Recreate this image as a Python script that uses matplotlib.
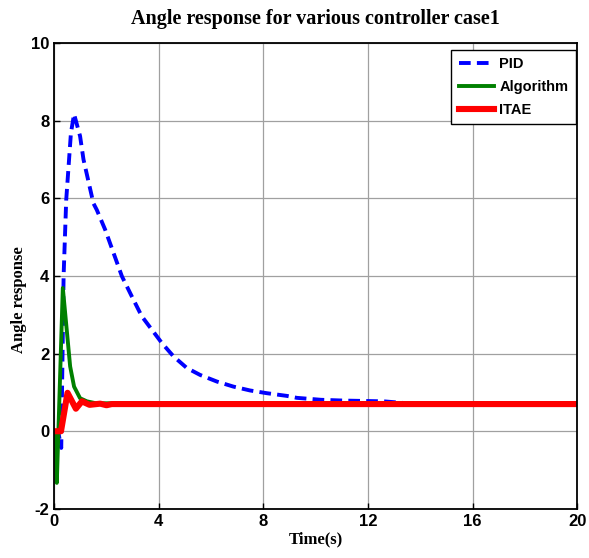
import numpy as np
import matplotlib
matplotlib.use("Agg")
import matplotlib.pyplot as plt

plt.rcParams['axes.unicode_minus'] = False

# Data
pid_t = [0, 0.15, 0.27, 0.36, 0.46, 0.64, 0.76, 0.99, 1.12, 1.5, 1.63, 1.95, 2.27, 2.59,
         2.97, 3.35, 3.74, 4.12, 4.56, 5.07, 5.58, 6.22, 6.85, 7.49, 8.13, 8.9, 9.28,
         10.2, 11.06, 12.6, 13.5, 20]
pid_y = [0, 0, -0.43, 4.0, 5.96, 7.68, 8.17, 7.6, 7.0, 5.87, 5.70, 5.19, 4.59, 3.99,
         3.47, 2.96, 2.61, 2.27, 1.93, 1.63, 1.45, 1.28, 1.15, 1.05, 0.98, 0.91, 0.86,
         0.81, 0.79, 0.77, 0.72, 0.72]

alg_t = [0, 0.05, 0.1, 0.33, 0.48, 0.61, 0.76, 0.99, 1.25, 1.6, 20]
alg_y = [0, 0, -1.33, 3.69, 2.61, 1.67, 1.15, 0.85, 0.77, 0.72, 0.72]

itae_t = [0, 0.26, 0.51, 0.83, 1.06, 1.35, 1.76, 2.0, 2.2, 20]
itae_y = [0, 0, 0.99, 0.58, 0.77, 0.68, 0.71, 0.67, 0.70, 0.70]

x_ticks = [0, 4, 8, 12, 16, 20]
y_ticks = [-2, 0, 2, 4, 6, 8, 10]

fig = plt.figure(figsize=(5.89, 5.58), dpi=100)
ax = fig.add_axes([0.092, 0.088, 0.888, 0.835])

ax.plot(pid_t, pid_y, color='#0000ff', linestyle='--', linewidth=2.8,
        dashes=(3.0, 1.6), label='PID')
ax.plot(alg_t, alg_y, color='#008000', linewidth=2.8, label='Algorithm')
ax.plot(itae_t, itae_y, color='#ff0000', linewidth=4.4, label='ITAE')

ax.set_xlim(0, 20)
ax.set_ylim(-2, 10)
ax.set_xticks(x_ticks)
ax.set_yticks(y_ticks)
ax.grid(True, color='#a0a0a0', linewidth=0.9)
ax.tick_params(direction='in', length=4, width=1)
for lab in ax.get_xticklabels() + ax.get_yticklabels():
    lab.set_fontfamily('Liberation Sans')
    lab.set_fontweight('bold')
    lab.set_fontsize(12)
for s in ax.spines.values():
    s.set_linewidth(1.3)

ax.set_title('Angle response for various controller case1', fontfamily='Liberation Serif',
             fontweight='bold', fontsize=14.5, pad=14)
ax.set_xlabel('Time(s)', fontfamily='Liberation Serif', fontweight='bold', fontsize=12,
              labelpad=2)
ax.set_ylabel('Angle response', fontfamily='Liberation Serif', fontweight='bold',
              fontsize=12)
ax.yaxis.set_label_coords(-0.052, 0.45)

leg = ax.legend(loc='upper right', bbox_to_anchor=(0.997, 0.985), borderaxespad=0,
                prop={'family': 'Liberation Sans', 'weight': 'bold', 'size': 10.5},
                fancybox=False, edgecolor='black', framealpha=1, handlelength=2.45,
                labelspacing=0.6, handletextpad=0.35, borderpad=0.5)
leg.get_frame().set_linewidth(1.0)

fig.savefig('out.png', dpi=100)
